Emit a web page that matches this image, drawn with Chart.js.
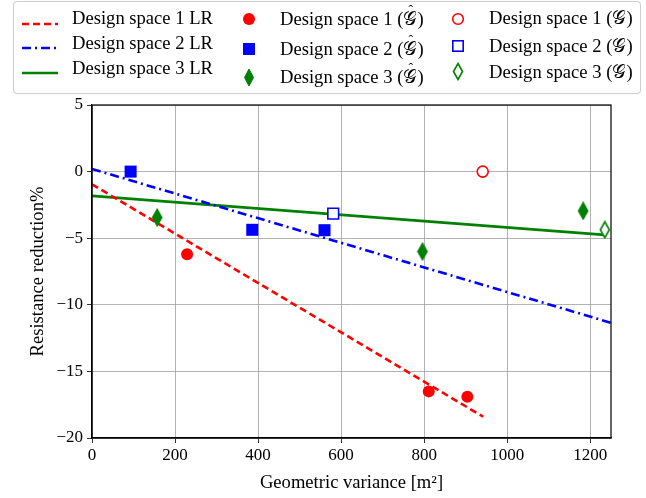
<!DOCTYPE html>
<html><head><meta charset="utf-8">
<script src="https://cdn.jsdelivr.net/npm/chart.js@4"></script>
<style>
body{margin:0;background:#fff;}
#wrap{position:relative;width:646px;height:498px;overflow:hidden;}
#c{position:absolute;left:0;top:0;}
#legbox{position:absolute;left:13px;top:1px;width:626px;height:91px;border:1px solid #cfcfcf;border-radius:4px;background:#fff;box-shadow:0 0 1px #ddd;}
.t{position:absolute;white-space:nowrap;font-family:'Liberation Serif',serif;font-size:18.6px;line-height:20px;color:#000;}
.m{position:absolute;}
.g{position:relative;display:inline-block;}
.h{position:absolute;left:1px;right:0;top:-5px;text-align:center;font-size:14px;line-height:14px;}
</style></head>
<body>
<div id="wrap">
<canvas id="c" width="646" height="498"></canvas>
<div id="legbox"></div>
</div>
<script>
// ---- data ----
const xTicks = [0, 200, 400, 600, 800, 1000, 1200];
const yTicks = [5, 0, -5, -10, -15, -20];

const lr1X = [0, 942];   const lr1Y = [-0.95, -18.4];
const lr2X = [0, 1250];  const lr2Y = [0.2, -11.35];
const lr3X = [0, 1235];  const lr3Y = [-1.82, -4.75];

const ds1HatX = [229, 811, 904];   const ds1HatY = [-6.2, -16.5, -16.9];
const ds2HatX = [93, 386, 560];    const ds2HatY = [0.0, -4.37, -4.4];
const ds3HatX = [157, 796, 1183];  const ds3HatY = [-3.45, -6.0, -2.95];
const ds1X = [941];  const ds1Y = [0.0];
const ds2X = [581];  const ds2Y = [-3.15];
const ds3X = [1235]; const ds3Y = [-4.37];

const legendLabels = [
  'Design space 1 LR','Design space 2 LR','Design space 3 LR',
  'Design space 1 (𝒢\u0302)','Design space 2 (𝒢\u0302)','Design space 3 (𝒢\u0302)',
  'Design space 1 (𝒢)','Design space 2 (𝒢)','Design space 3 (𝒢)'
];

const RED='#ff0000', BLUE='#0000ff', GREEN='#008000';
const pts = (xs, ys) => xs.map((x, i) => ({x, y: ys[i]}));

function thinDiamond(filled){
  const c=document.createElement('canvas'); c.width=12; c.height=19;
  const g=c.getContext('2d');
  g.beginPath(); g.moveTo(6,1.5); g.lineTo(10.5,9.5); g.lineTo(6,17.5); g.lineTo(1.5,9.5); g.closePath();
  g.lineWidth=1.6; g.strokeStyle=GREEN;
  if(filled){g.fillStyle=GREEN; g.fill();} else {g.fillStyle='#fff'; g.fill();}
  g.stroke();
  return c;
}
const dFill=thinDiamond(true), dOpen=thinDiamond(false);

const frame = {
  id:'frame',
  afterDraw(chart){
    const a=chart.chartArea, ctx=chart.ctx;
    ctx.save(); ctx.strokeStyle='#000'; ctx.lineWidth=1.2;
    ctx.strokeRect(a.left, a.top, a.right-a.left, a.bottom-a.top);
    ctx.restore();
  }
};

const F = "'Liberation Serif', serif";
const minus = v => (v<0 ? '\u2212'+Math.abs(v) : ''+v);

new Chart(document.getElementById('c'), {
  type:'scatter',
  data:{datasets:[
    {label:legendLabels[0], data:pts(lr1X,lr1Y), showLine:true, borderColor:RED, borderWidth:2.6, borderDash:[7,4], pointRadius:0, order:5},
    {label:legendLabels[1], data:pts(lr2X,lr2Y), showLine:true, borderColor:BLUE, borderWidth:2.6, borderDash:[9,4,2,4], pointRadius:0, order:5},
    {label:legendLabels[2], data:pts(lr3X,lr3Y), showLine:true, borderColor:GREEN, borderWidth:2.6, pointRadius:0, order:5},
    {label:legendLabels[3], data:pts(ds1HatX,ds1HatY), pointStyle:'circle', pointRadius:6, backgroundColor:RED, borderColor:RED, borderWidth:0, clip:false},
    {label:legendLabels[4], data:pts(ds2HatX,ds2HatY), pointStyle:'rect', pointRadius:8.5, backgroundColor:BLUE, borderColor:BLUE, borderWidth:0, clip:false},
    {label:legendLabels[5], data:pts(ds3HatX,ds3HatY), pointStyle:dFill, clip:false},
    {label:legendLabels[6], data:pts(ds1X,ds1Y), pointStyle:'circle', pointRadius:5.5, backgroundColor:'#fff', borderColor:RED, borderWidth:1.6, clip:false},
    {label:legendLabels[7], data:pts(ds2X,ds2Y), pointStyle:'rect', pointRadius:7.6, backgroundColor:'#fff', borderColor:BLUE, borderWidth:1.6, clip:false},
    {label:legendLabels[8], data:pts(ds3X,ds3Y), pointStyle:dOpen, clip:false}
  ]},
  options:{
    responsive:false, animation:false,
    layout:{padding:{top:105, right:35, left:0, bottom:0}},
    plugins:{legend:{display:false}, tooltip:{enabled:false}},
    scales:{
      x:{type:'linear', min:0, max:1250,
        afterBuildTicks:s=>{s.ticks=xTicks.map(v=>({value:v}));},
        afterFit:s=>{s.height=60;},
        grid:{color:'#a0a0a0', lineWidth:0.8, tickLength:5, tickColor:'#000', drawOnChartArea:true},
        border:{color:'#000', width:1.2},
        ticks:{color:'#000', font:{family:F, size:17}, padding:2, maxRotation:0, callback:v=>minus(v)},
        title:{display:true, text:'Geometric variance [m²]', color:'#000', font:{family:F, size:18.6}, padding:{top:1}}
      },
      y:{type:'linear', min:-20, max:5,
        afterBuildTicks:s=>{s.ticks=yTicks.map(v=>({value:v}));},
        afterFit:s=>{s.width=92;},
        grid:{color:'#a0a0a0', lineWidth:0.8, tickLength:5, tickColor:'#000'},
        border:{color:'#000', width:1.2},
        ticks:{color:'#000', font:{family:F, size:17}, padding:4, callback:v=>minus(v)},
        title:{display:true, text:'Resistance reduction%', color:'#000', font:{family:F, size:18.6}, padding:{top:27, bottom:0}}
      }
    }
  },
  plugins:[frame]
});

// ---- HTML legend ----
const wrap=document.getElementById('wrap');
function text(s,x,cy){
  const d=document.createElement('div');d.className='t';
  if(s.indexOf('\u0302')>=0){
    const [a,b]=s.split('𝒢\u0302');
    d.appendChild(document.createTextNode(a));
    const g=document.createElement('span');g.className='g';g.textContent='𝒢';
    const h=document.createElement('span');h.className='h';h.textContent='\u02C6';g.appendChild(h);
    d.appendChild(g); d.appendChild(document.createTextNode(b));
  } else d.textContent=s;
  d.style.left=x+'px';d.style.top=(cy-10)+'px';wrap.appendChild(d);}
function svg(inner,x,cy,w,h){const d=document.createElement('div');d.className='m';d.style.left=(x-w/2)+'px';d.style.top=(cy-h/2)+'px';
  d.innerHTML='<svg width="'+w+'" height="'+h+'" xmlns="http://www.w3.org/2000/svg">'+inner+'</svg>';wrap.appendChild(d);}
// column 1: lines
svg('<line x1="0" y1="4" x2="36" y2="4" stroke="'+RED+'" stroke-width="2.6" stroke-dasharray="7,4"/>',40,18,36,8);
svg('<line x1="0" y1="4" x2="36" y2="4" stroke="'+BLUE+'" stroke-width="2.6" stroke-dasharray="9,4,2,4"/>',40,42,36,8);
svg('<line x1="0" y1="4" x2="36" y2="4" stroke="'+GREEN+'" stroke-width="2.6"/>',40,67,36,8);
text(legendLabels[0],72,18); text(legendLabels[1],72,43); text(legendLabels[2],72,68);
// column 2: filled markers
svg('<circle cx="7" cy="7" r="6" fill="'+RED+'"/>',249,19,14,14);
svg('<rect x="1" y="1" width="12" height="12" fill="'+BLUE+'"/>',249,49,14,14);
svg('<polygon points="6,1 10.5,9.5 6,18 1.5,9.5" fill="'+GREEN+'" stroke="'+GREEN+'" stroke-width="1"/>',249,77,12,19);
text(legendLabels[3],280,19); text(legendLabels[4],280,49); text(legendLabels[5],280,77);
// column 3: open markers
svg('<circle cx="7" cy="7" r="5.3" fill="#fff" stroke="'+RED+'" stroke-width="1.6"/>',458,19,14,14);
svg('<rect x="1.8" y="1.8" width="10.4" height="10.4" fill="#fff" stroke="'+BLUE+'" stroke-width="1.6"/>',458,46,14,14);
svg('<polygon points="6,1.5 10.5,9.5 6,17.5 1.5,9.5" fill="#fff" stroke="'+GREEN+'" stroke-width="1.6"/>',458,71,12,19);
text(legendLabels[6],489,18); text(legendLabels[7],489,46); text(legendLabels[8],489,72);
</script>
</body></html>
